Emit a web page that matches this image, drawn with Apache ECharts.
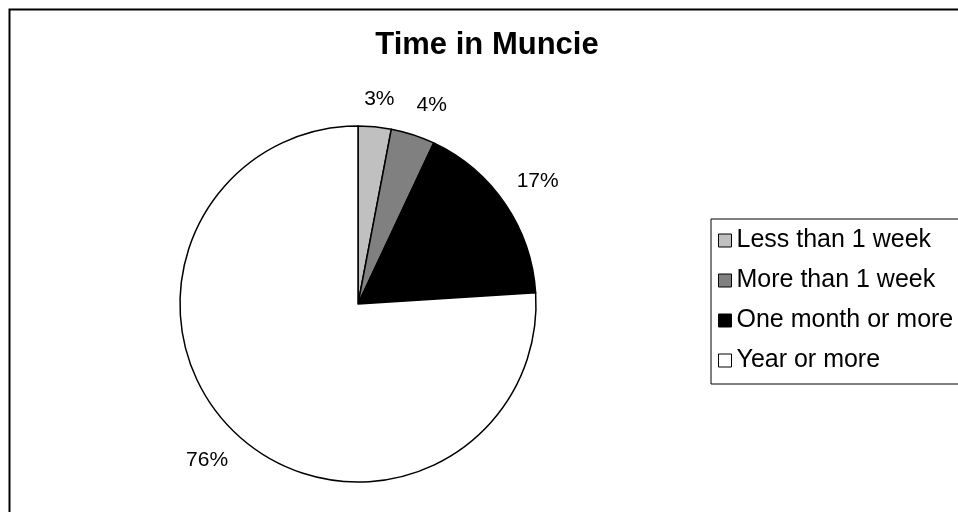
<!DOCTYPE html>
<html>
<head>
<meta charset="utf-8">
<script src="https://cdn.jsdelivr.net/npm/echarts@6/dist/echarts.min.js"></script>
<style>
html,body{margin:0;padding:0;background:#fff;}
#chart{width:958px;height:512px;}
</style>
</head>
<body>
<div id="chart"></div>
<script>
const titleText = 'Time in Muncie';
const categories = ['Less than 1 week', 'More than 1 week', 'One month or more', 'Year or more'];
const values = [3, 4, 17, 76];
const colors = ['#c0c0c0', '#808080', '#000000', '#ffffff'];
// small nudges of the outside percentage labels (style only)
const labelNudges = [[1, 10], [7, 7], [1, -1], [-3, -1]];

const FONT = "'Liberation Sans', Arial, sans-serif";
const chart = echarts.init(document.getElementById('chart'));

const pieData = categories.map((c, i) => ({
  name: c, value: values[i],
  itemStyle: { color: colors[i], borderColor: '#000', borderWidth: 1.5 }
}));
const labelData = categories.map((c, i) => ({
  name: c, value: values[i], label: { offset: labelNudges[i] }
}));

chart.setOption({
  backgroundColor: '#fff',
  animation: false,
  graphic: [{
    type: 'rect', left: 7, top: 7, silent: true,
    shape: { width: 1000, height: 600 },
    style: { fill: 'none', stroke: '#000', lineWidth: 2 }
  }],
  title: {
    text: titleText, left: 487, top: 30, textAlign: 'center', padding: 0,
    textStyle: { fontFamily: FONT, fontWeight: 'bold', fontSize: 31, color: '#000' }
  },
  legend: {
    orient: 'vertical', left: 711, top: 219,
    padding: [9, 10, 11, 7],
    itemWidth: 13, itemHeight: 13, itemGap: 15,
    borderColor: '#000', borderWidth: 1, borderRadius: 0,
    icon: 'rect',
    textStyle: { fontFamily: FONT, fontSize: 25, color: '#000' },
    data: categories.map((c, i) => ({
      name: c, itemStyle: { color: colors[i], borderColor: '#000', borderWidth: 1 }
    }))
  },
  series: [
    {
      type: 'pie', center: [358, 304], radius: [0, 178],
      startAngle: 90, clockwise: true,
      label: { show: false }, labelLine: { show: false },
      emphasis: { disabled: true },
      data: pieData
    },
    {
      type: 'pie', center: [358, 304], radius: [204, 222],
      startAngle: 90, clockwise: true, silent: true,
      itemStyle: { color: 'transparent', borderWidth: 0 },
      label: {
        show: true, position: 'inside', formatter: '{c}%',
        fontFamily: FONT, fontSize: 21, color: '#000'
      },
      labelLine: { show: false },
      emphasis: { disabled: true },
      data: labelData
    }
  ]
});
</script>
</body>
</html>
